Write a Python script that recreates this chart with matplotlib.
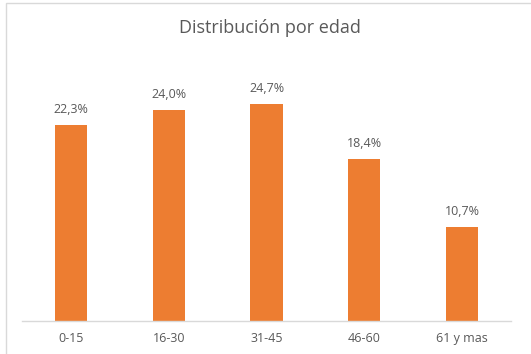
import matplotlib
matplotlib.use("Agg")
import matplotlib.pyplot as plt
from matplotlib.patches import Rectangle

categories = ["0-15", "16-30", "31-45", "46-60", "61 y mas"]
values = [22.3, 24.0, 24.7, 18.4, 10.7]
labels = ["22,3%", "24,0%", "24,7%", "18,4%", "10,7%"]

W, H = 531, 354
fig = plt.figure(figsize=(W/100, H/100), dpi=100)
fig.patch.set_facecolor("white")

# chart border
fig.patches.append(Rectangle((6/W, -0.1), 1.2, (H-3)/H + 0.1, transform=fig.transFigure,
                             fill=False, edgecolor="#d9d9d9", linewidth=1))

ax = fig.add_axes([22/W, (H-321)/H, (511-22)/W, (321-57)/H])
x = list(range(len(categories)))
ax.bar(x, values, width=0.33, color="#ed7d31")
ax.set_xlim(-0.5, len(categories)-0.5)
ax.set_ylim(0, 30)
for xi, v, l in zip(x, values, labels):
    ax.text(xi, v + 1.0, l, ha="center", va="bottom", fontsize=9, color="#595959",
            family=["Open Sans", "DejaVu Sans"])
ax.set_xticks(x)
ax.set_xticklabels(categories, fontsize=9, color="#595959", family=["Open Sans", "DejaVu Sans"])
ax.tick_params(axis="x", length=0, pad=8)
ax.set_yticks([])
for s in ["top", "right", "left"]:
    ax.spines[s].set_visible(False)
ax.spines["bottom"].set_color("#d9d9d9")
ax.spines["bottom"].set_linewidth(1)

fig.text(270/W, 1 - 28/H, "Distribución por edad", ha="center", va="center", fontsize=13,
         color="#595959", family=["Open Sans", "DejaVu Sans"])

fig.savefig("out.png", dpi=100)
